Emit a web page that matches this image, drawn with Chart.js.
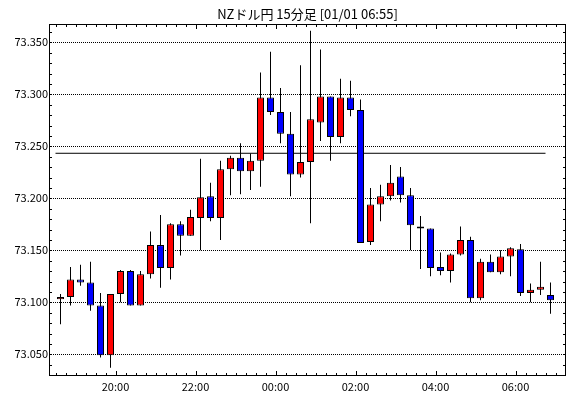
<!DOCTYPE html>
<html>
<head>
<meta charset="utf-8">
<script src="https://cdn.jsdelivr.net/npm/chart.js@4.4.1/dist/chart.umd.min.js"></script>
<style>
  html, body { margin: 0; padding: 0; background: #fff; }
  #wrap { width: 570px; height: 398px; }
</style>
</head>
<body>
<div id="wrap"><canvas id="chart"></canvas></div>
<script>
// 15分足 18:30 - 06:45
const times = [
  '18:30', '18:45', '19:00', '19:15', '19:30', '19:45', '20:00', '20:15', '20:30', '20:45',
  '21:00', '21:15', '21:30', '21:45', '22:00', '22:15', '22:30', '22:45', '23:00', '23:15',
  '23:30', '23:45', '00:00', '00:15', '00:30', '00:45', '01:00', '01:15', '01:30', '01:45',
  '02:00', '02:15', '02:30', '02:45', '03:00', '03:15', '03:30', '03:45', '04:00', '04:15',
  '04:30', '04:45', '05:00', '05:15', '05:30', '05:45', '06:00', '06:15', '06:30', '06:45'
];
const opens = [
  73.103, 73.105, 73.122, 73.119, 73.097, 73.049, 73.108, 73.130, 73.097, 73.127,
  73.155, 73.133, 73.175, 73.164, 73.181, 73.202, 73.181, 73.228, 73.239, 73.226,
  73.236, 73.297, 73.283, 73.262, 73.223, 73.235, 73.273, 73.298, 73.259, 73.297,
  73.285, 73.158, 73.194, 73.202, 73.221, 73.203, 73.173, 73.171, 73.134, 73.130,
  73.146, 73.160, 73.104, 73.139, 73.129, 73.144, 73.151, 73.109, 73.112, 73.107
];
const highs = [
  73.108, 73.134, 73.136, 73.139, 73.109, 73.108, 73.131, 73.131, 73.130, 73.168,
  73.184, 73.176, 73.178, 73.189, 73.238, 73.215, 73.236, 73.241, 73.253, 73.243,
  73.321, 73.341, 73.306, 73.283, 73.328, 73.361, 73.343, 73.298, 73.315, 73.313,
  73.295, 73.210, 73.213, 73.232, 73.230, 73.210, 73.183, 73.171, 73.148, 73.147,
  73.173, 73.163, 73.142, 73.146, 73.150, 73.153, 73.156, 73.118, 73.139, 73.119
];
const lows = [
  73.079, 73.097, 73.116, 73.092, 73.047, 73.037, 73.100, 73.097, 73.097, 73.123,
  73.114, 73.122, 73.145, 73.164, 73.150, 73.178, 73.160, 73.203, 73.204, 73.208,
  73.211, 73.280, 73.253, 73.202, 73.220, 73.176, 73.255, 73.236, 73.253, 73.279,
  73.157, 73.155, 73.178, 73.198, 73.196, 73.150, 73.132, 73.125, 73.126, 73.119,
  73.145, 73.100, 73.102, 73.129, 73.127, 73.125, 73.106, 73.100, 73.107, 73.089
];
const closes = [
  73.105, 73.122, 73.119, 73.097, 73.049, 73.108, 73.130, 73.097, 73.127, 73.155,
  73.133, 73.175, 73.164, 73.182, 73.201, 73.181, 73.228, 73.239, 73.226, 73.236,
  73.297, 73.283, 73.262, 73.223, 73.235, 73.276, 73.298, 73.259, 73.297, 73.285,
  73.157, 73.194, 73.202, 73.215, 73.203, 73.174, 73.171, 73.133, 73.130, 73.146,
  73.160, 73.104, 73.139, 73.129, 73.144, 73.152, 73.109, 73.112, 73.115, 73.102
];
const refLevel = 73.2433;
const xTickLabels = ['20:00', '22:00', '00:00', '02:00', '04:00', '06:00'];
const yTickValues = [73.05, 73.10, 73.15, 73.20, 73.25, 73.30, 73.35];

const upColor = '#ff0000';
const downColor = '#0000ff';
const font = 'Noto Sans CJK JP';

const bodyColors = opens.map((o, i) => closes[i] > o ? upColor : downColor);
const majorIdx = xTickLabels.map(l => times.indexOf(l));

// 枠と内向きの目盛り
const frame = {
  id: 'frame',
  afterDraw(chart) {
    const {ctx, chartArea: a, scales: {x, y}} = chart;
    ctx.save();
    ctx.strokeStyle = '#000';
    ctx.lineWidth = 1;
    ctx.beginPath();
    for (let i = 0; i <= times.length + 2; i++) {
      const px = Math.round(x.getPixelForValue(i - 0.5)) + 0.5;
      if (px <= a.left + 1 || px >= a.right - 1) continue;
      const len = majorIdx.includes(i) ? 5 : 3;
      ctx.moveTo(px, a.top); ctx.lineTo(px, a.top + len);
      ctx.moveTo(px, a.bottom); ctx.lineTo(px, a.bottom - len);
    }
    for (let k = 4; k <= 36; k++) {
      const py = Math.round(y.getPixelForValue(73 + k / 100)) + 0.5;
      if (py <= a.top + 1 || py >= a.bottom - 1) continue;
      ctx.moveTo(a.left, py); ctx.lineTo(a.left + 3, py);
      ctx.moveTo(a.right, py); ctx.lineTo(a.right - 3, py);
    }
    ctx.stroke();
    ctx.strokeRect(a.left + 0.5, a.top + 0.5, a.right - a.left - 1, a.bottom - a.top - 1);
    ctx.restore();
  }
};

new Chart(document.getElementById('chart'), {
  type: 'bar',
  data: {
    datasets: [{
      label: 'body',
      data: times.map((t, i) => ({x: i, y: [opens[i], closes[i]]})),
      backgroundColor: bodyColors,
      borderColor: '#000',
      borderWidth: 1,
      borderSkipped: false,
      inflateAmount: 0,
      grouped: false,
      barThickness: 7,
      maxBarThickness: 7
    }, {
      label: 'wick',
      data: times.map((t, i) => ({x: i, y: [lows[i], highs[i]]})),
      backgroundColor: '#000',
      borderWidth: 0,
      inflateAmount: 0,
      grouped: false,
      barThickness: 1,
      maxBarThickness: 1
    }, {
      type: 'line',
      label: 'ref',
      data: [{x: -0.5, y: refLevel}, {x: times.length - 1.5, y: refLevel}],
      borderColor: '#000',
      borderWidth: 1,
      pointRadius: 0,
      fill: false
    }]
  },
  options: {
    responsive: true,
    maintainAspectRatio: false,
    animation: false,
    events: [],
    layout: {padding: {left: 0, right: 4, top: 0, bottom: 0}},
    plugins: {
      legend: {display: false},
      tooltip: {enabled: false},
      title: {
        display: true,
        text: 'NZドル円 15分足 [01/01 06:55]',
        fullSize: false,
        color: '#000',
        font: {family: font, size: 13, weight: 'normal', lineHeight: '16px'},
        padding: {top: 6, bottom: 2}
      }
    },
    scales: {
      x: {
        type: 'linear',
        min: -1.15,
        max: 50.55,
        offset: false,
        grid: {display: false, offset: false, drawTicks: false},
        border: {display: false},
        afterBuildTicks(scale) {
          scale.ticks = majorIdx.map(i => ({value: i - 0.5}));
        },
        afterFit(scale) { scale.height = 22; },
        ticks: {
          autoSkip: false,
          maxRotation: 0,
          padding: 4,
          color: '#000',
          font: {family: font, size: 11},
          callback: v => times[Math.round(v + 0.5)]
        }
      },
      y: {
        type: 'linear',
        min: 73.02914,
        max: 73.3676,
        grid: {color: '#000', lineWidth: 1, drawTicks: false},
        border: {display: false, dash: [1, 1]},
        afterBuildTicks(scale) {
          scale.ticks = yTickValues.map(v => ({value: v}));
        },
        afterFit(scale) { scale.width = 49; },
        ticks: {
          padding: 1,
          color: '#000',
          font: {family: font, size: 11},
          callback: v => v.toFixed(3)
        }
      }
    }
  },
  plugins: [frame]
});
</script>
</body>
</html>
